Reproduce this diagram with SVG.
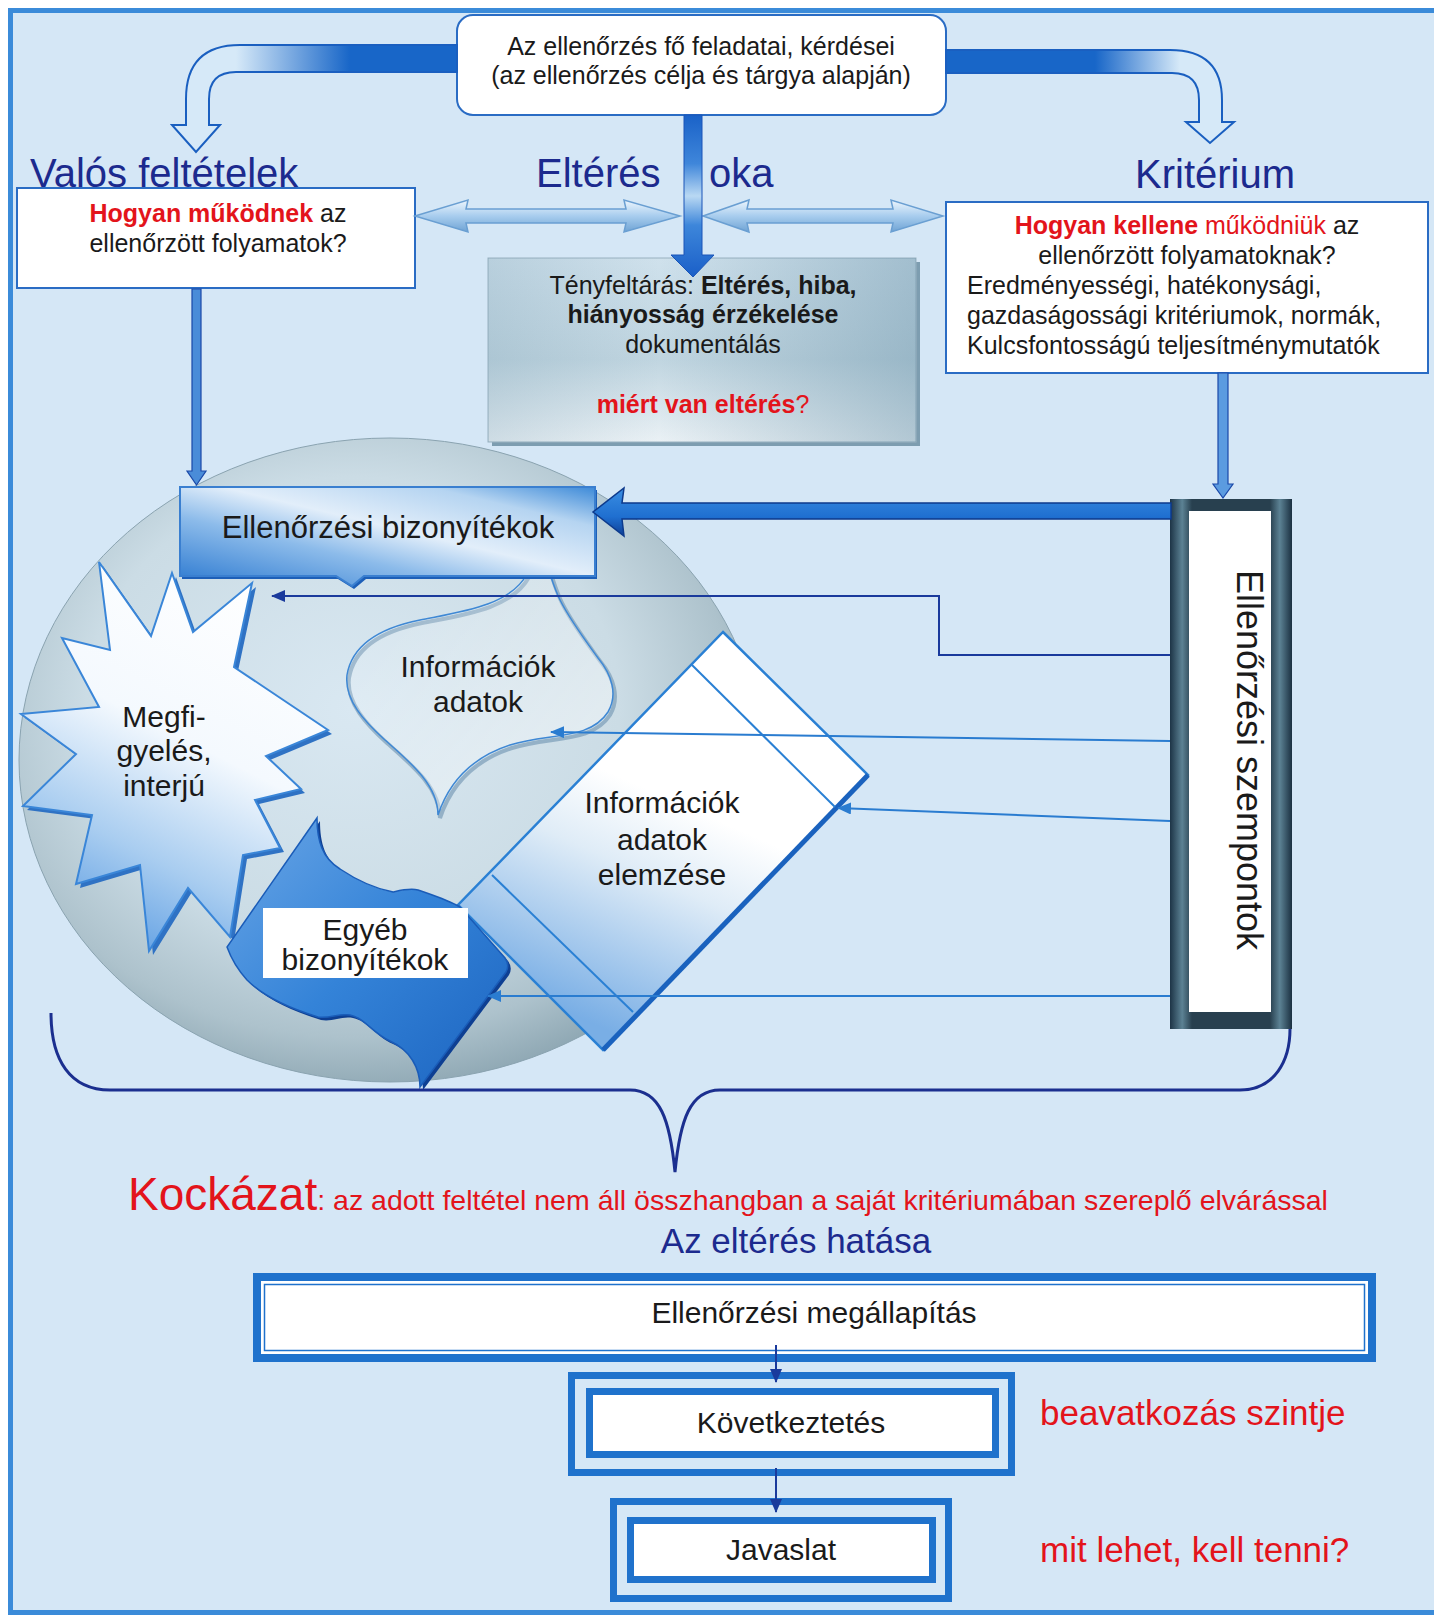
<svg xmlns="http://www.w3.org/2000/svg" width="1434" height="1617" viewBox="0 0 1434 1617">
<defs>
<style>
text { font-family: "Liberation Sans", Arial, sans-serif; fill: #1a1a1a; }
.t25 { font-size: 25px; }
.t30 { font-size: 30px; }
.hdr { font-size: 40px; fill: #1c2a8e; }
.red { fill: #e3141b; }
.b { font-weight: bold; }
.wbox { fill: #ffffff; stroke: #2a6cc4; stroke-width: 2; }
.conn { fill: none; stroke: #2a7cd0; stroke-width: 2; marker-end: url(#ahB); }
.connN { fill: none; stroke: #1a3a9c; stroke-width: 2; marker-end: url(#ahN); }
.frame { fill: none; stroke: #1f72cc; stroke-width: 7; }
.dbl { fill: url(#gDbl); stroke: #6a9fd2; stroke-width: 1.5; }
</style>
<marker id="ahB" viewBox="0 0 14 12" refX="13" refY="6" markerWidth="14" markerHeight="12" markerUnits="userSpaceOnUse" orient="auto"><path d="M0,0 L14,6 L0,12 Z" fill="#2a7cd0"/></marker>
<marker id="ahN" viewBox="0 0 14 12" refX="13" refY="6" markerWidth="14" markerHeight="12" markerUnits="userSpaceOnUse" orient="auto"><path d="M0,0 L14,6 L0,12 Z" fill="#1a3a9c"/></marker>
<linearGradient id="gBandL" gradientUnits="userSpaceOnUse" x1="236" y1="0" x2="350" y2="0"><stop offset="0" stop-color="#d6e9f8"/><stop offset="1" stop-color="#1866c8"/></linearGradient>
<linearGradient id="gBandR" gradientUnits="userSpaceOnUse" x1="1095" y1="0" x2="1180" y2="0"><stop offset="0" stop-color="#1866c8"/><stop offset="1" stop-color="#d6e9f8"/></linearGradient>
<linearGradient id="gVert" gradientUnits="userSpaceOnUse" x1="0" y1="115" x2="0" y2="277"><stop offset="0" stop-color="#1a62c8"/><stop offset="0.3" stop-color="#3f86da"/><stop offset="0.5" stop-color="#b9d8f3"/><stop offset="0.68" stop-color="#3d86da"/><stop offset="1" stop-color="#1a5fc8"/></linearGradient>
<linearGradient id="gDbl" x1="0" y1="0" x2="0" y2="1"><stop offset="0" stop-color="#eef6fd"/><stop offset="0.5" stop-color="#a8cdee"/><stop offset="1" stop-color="#6fa3d4"/></linearGradient>
<linearGradient id="gTeny" x1="0" y1="0" x2="0" y2="1"><stop offset="0" stop-color="#cfe1ec"/><stop offset="0.55" stop-color="#c0d5e0"/><stop offset="1" stop-color="#eaf1f5"/></linearGradient>
<linearGradient id="gTenyR" x1="0" y1="0" x2="1" y2="0"><stop offset="0" stop-color="#5f8aa2" stop-opacity="0.2"/><stop offset="0.4" stop-color="#5f8aa2" stop-opacity="0"/><stop offset="1" stop-color="#5f8aa2" stop-opacity="0.4"/></linearGradient>
<radialGradient id="gSphere" cx="0.45" cy="0.42" r="0.6"><stop offset="0" stop-color="#d9e8f2"/><stop offset="0.6" stop-color="#cbdce5"/><stop offset="0.85" stop-color="#adc2cc"/><stop offset="1" stop-color="#8ea7b3"/></radialGradient>
<linearGradient id="gBiz" x1="0" y1="1" x2="1" y2="0"><stop offset="0" stop-color="#2a78d0"/><stop offset="0.35" stop-color="#8cbbea"/><stop offset="0.55" stop-color="#e2eefa"/><stop offset="0.8" stop-color="#b5d4f1"/><stop offset="1" stop-color="#3d8ad8"/></linearGradient>
<linearGradient id="gStar" x1="0.7" y1="0" x2="0.3" y2="1"><stop offset="0" stop-color="#ffffff"/><stop offset="0.45" stop-color="#f4f9fe"/><stop offset="0.75" stop-color="#a9cdf0"/><stop offset="1" stop-color="#5d9de2"/></linearGradient>
<linearGradient id="gEgy" x1="0" y1="0" x2="1" y2="1"><stop offset="0" stop-color="#6aa6e6"/><stop offset="0.5" stop-color="#3483d8"/><stop offset="1" stop-color="#1c64c0"/></linearGradient>
<linearGradient id="gDia" gradientUnits="userSpaceOnUse" x1="700" y1="640" x2="540" y2="1000"><stop offset="0" stop-color="#ffffff"/><stop offset="0.4" stop-color="#ffffff"/><stop offset="0.6" stop-color="#dfecf7"/><stop offset="1" stop-color="#79aee5"/></linearGradient>
<linearGradient id="gBub" x1="0" y1="0" x2="1" y2="1"><stop offset="0" stop-color="#ffffff" stop-opacity="0"/><stop offset="1" stop-color="#ffffff" stop-opacity="0.55"/></linearGradient>
<linearGradient id="gSzemp" x1="0" y1="0" x2="1" y2="0"><stop offset="0" stop-color="#1d3446"/><stop offset="0.1" stop-color="#5c8294"/><stop offset="0.18" stop-color="#28404f"/><stop offset="0.82" stop-color="#28404f"/><stop offset="0.9" stop-color="#5c8294"/><stop offset="1" stop-color="#1b3041"/></linearGradient>
<linearGradient id="gThick" x1="0" y1="0" x2="0" y2="1"><stop offset="0" stop-color="#3a8ee2"/><stop offset="0.6" stop-color="#1f6fd0"/><stop offset="1" stop-color="#0e3f96"/></linearGradient>
</defs>

<rect x="0" y="0" width="1434" height="1617" fill="#ffffff"/>
<rect x="10.5" y="10.5" width="1440" height="1602" fill="#d5e7f6" stroke="#3b8bd9" stroke-width="5"/>

<g id="sphere">
<ellipse cx="390" cy="760" rx="371" ry="322" fill="url(#gSphere)" stroke="#8aa3b0" stroke-width="1"/>
</g>

<g id="node-top">
<rect x="457" y="15" width="489" height="100" rx="16" class="wbox"/>
<text x="701" y="55" text-anchor="middle" class="t25">Az ellenőrzés fő feladatai, kérdései</text>
<text x="701" y="84" text-anchor="middle" class="t25">(az ellenőrzés célja és tárgya alapján)</text>
</g>

<g id="node-valos">
<text x="30" y="187" class="hdr">Valós feltételek</text>
<rect x="17" y="188" width="398" height="100" class="wbox"/>
<text x="218" y="222" text-anchor="middle" class="t25"><tspan class="red b">Hogyan működnek</tspan> az</text>
<text x="218" y="252" text-anchor="middle" class="t25">ellenőrzött folyamatok?</text>
</g>

<g id="node-elteres-oka">
<text x="536" y="187" class="hdr">Eltérés</text>
<text x="709" y="187" class="hdr">oka</text>
</g>

<g id="node-kriterium">
<text x="1135" y="188" class="hdr">Kritérium</text>
<rect x="946" y="202" width="482" height="171" class="wbox"/>
<text x="1187" y="234" text-anchor="middle" class="t25"><tspan class="red b">Hogyan kellene</tspan><tspan class="red"> működniük</tspan> az</text>
<text x="1187" y="264" text-anchor="middle" class="t25">ellenőrzött folyamatoknak?</text>
<text x="967" y="294" class="t25">Eredményességi, hatékonysági,</text>
<text x="967" y="324" class="t25">gazdaságossági kritériumok, normák,</text>
<text x="967" y="354" class="t25">Kulcsfontosságú teljesítménymutatók</text>
</g>

<g id="node-tenyfeltaras">
<rect x="492" y="262" width="428" height="184" fill="#7d9db0"/>
<rect x="488" y="258" width="428" height="184" fill="url(#gTeny)" stroke="#9ab2c0" stroke-width="1"/>
<rect x="488" y="258" width="428" height="184" fill="url(#gTenyR)"/>
<text x="703" y="294" text-anchor="middle" class="t25">Tényfeltárás: <tspan class="b">Eltérés, hiba,</tspan></text>
<text x="703" y="323" text-anchor="middle" class="t25 b">hiányosság érzékelése</text>
<text x="703" y="353" text-anchor="middle" class="t25">dokumentálás</text>
<text x="703" y="413" text-anchor="middle" class="t25"><tspan class="red b">miért van eltérés</tspan><tspan class="red">?</tspan></text>
</g>

<g id="node-informaciok">
<path d="M527,574 C510,606 460,612 420,620 C380,628 352,645 347,675 C344,700 365,722 385,740 C410,762 438,785 438,815 C448,785 470,758 510,745 C550,733 590,740 608,712 C618,695 612,675 598,658 C585,640 570,620 560,600 C555,590 552,580 550,574 Z" fill="none" stroke="#7b9cb8" stroke-width="4" transform="translate(2,3)" opacity="0.7"/>
<path d="M527,574 C510,606 460,612 420,620 C380,628 352,645 347,675 C344,700 365,722 385,740 C410,762 438,785 438,815 C448,785 470,758 510,745 C550,733 590,740 608,712 C618,695 612,675 598,658 C585,640 570,620 560,600 C555,590 552,580 550,574 Z" fill="url(#gBub)" stroke="#3f88d4" stroke-width="1.5"/>
<text x="478" y="677" text-anchor="middle" class="t30">Információk</text>
<text x="478" y="712" text-anchor="middle" class="t30">adatok</text>
</g>

<g id="node-elemzes">
<polygon points="723,632 868,775 603,1050 458,905" fill="url(#gDia)" stroke="#2a80d4" stroke-width="2.5"/>
<line x1="868" y1="775" x2="603" y2="1050" stroke="#1a62be" stroke-width="5"/>
<line x1="692" y1="665" x2="835" y2="807" stroke="#2a80d4" stroke-width="2"/>
<line x1="492" y1="875" x2="633" y2="1012" stroke="#2a80d4" stroke-width="2"/>
<text x="662" y="813" text-anchor="middle" class="t30">Információk</text>
<text x="662" y="850" text-anchor="middle" class="t30">adatok</text>
<text x="662" y="885" text-anchor="middle" class="t30">elemzése</text>
</g>

<g id="node-megfigyeles">
<polygon points="99,562 151,636 172,573 193,632 252,583 234,667 328,730 266,756 301,789 255,800 280,848 243,855 230,937 188,888 149,951 140,865 76,884 92,815 23,806 76,754 21,714 99,707 62,638 110,650" fill="#2f72c4" transform="translate(4,4)"/>
<polygon points="99,562 151,636 172,573 193,632 252,583 234,667 328,730 266,756 301,789 255,800 280,848 243,855 230,937 188,888 149,951 140,865 76,884 92,815 23,806 76,754 21,714 99,707 62,638 110,650" fill="url(#gStar)" stroke="#3a86d8" stroke-width="2"/>
<text x="164" y="727" text-anchor="middle" class="t30">Megfi-</text>
<text x="164" y="761" text-anchor="middle" class="t30">gyelés,</text>
<text x="164" y="796" text-anchor="middle" class="t30">interjú</text>
</g>

<g id="node-egyeb">
<path d="M317,818 C317,840 322,858 340,869 C355,879 372,888 393,892 C402,890 410,888 418,890 C432,895 448,900 460,907 L505,958 Q510,965 506,972 L420,1087 C420,1068 410,1050 390,1041 C372,1033 365,1018 350,1015 C338,1013 330,1019 318,1017 C295,1010 265,998 247,980 C238,970 231,958 227,947 Z" fill="#0e3f92" transform="translate(3,3)"/>
<path d="M317,818 C317,840 322,858 340,869 C355,879 372,888 393,892 C402,890 410,888 418,890 C432,895 448,900 460,907 L505,958 Q510,965 506,972 L420,1087 C420,1068 410,1050 390,1041 C372,1033 365,1018 350,1015 C338,1013 330,1019 318,1017 C295,1010 265,998 247,980 C238,970 231,958 227,947 Z" fill="url(#gEgy)" stroke="#1a5cb8" stroke-width="1.5"/>
<rect x="263" y="908" width="205" height="70" fill="#ffffff"/>
<text x="365" y="940" text-anchor="middle" class="t30">Egyéb</text>
<text x="365" y="970" text-anchor="middle" class="t30">bizonyítékok</text>
</g>

<g id="node-bizonyitekok">
<path d="M180,487 H595 V576 H364 L352,586 L336,576 H180 Z" fill="#1d5fb8" transform="translate(2,3)"/>
<path d="M180,487 H595 V576 H364 L352,586 L336,576 H180 Z" fill="url(#gBiz)" stroke="#3a7fd0" stroke-width="2"/>
<text x="388" y="538" text-anchor="middle" font-size="31">Ellenőrzési bizonyítékok</text>
</g>

<g id="node-szempontok">
<rect x="1170" y="499" width="122" height="530" fill="url(#gSzemp)"/>
<rect x="1189" y="511" width="82" height="501" fill="#ffffff"/>
<text transform="translate(1237,760) rotate(90)" text-anchor="middle" font-size="36">Ellenőrzési szempontok</text>
</g>

<g id="node-kockazat">
<text x="128" y="1210"><tspan class="red" font-size="46">Kockázat</tspan><tspan class="red" font-size="28.5">: az adott feltétel nem áll összhangban a saját kritériumában szereplő elvárással</tspan></text>
</g>

<g id="node-hatas">
<text x="796" y="1253" text-anchor="middle" font-size="35" style="fill:#1c2a8e">Az eltérés hatása</text>
</g>

<g id="node-megallapitas">
<rect x="253" y="1273" width="1123" height="89" fill="#1f72cc"/>
<rect x="261" y="1281" width="1107" height="73" fill="#ffffff"/>
<rect x="264.5" y="1284.5" width="1100" height="66" fill="none" stroke="#1f72cc" stroke-width="1.5"/>
<text x="814" y="1323" text-anchor="middle" class="t30">Ellenőrzési megállapítás</text>
</g>

<g id="node-kovetkeztetes">
<rect x="571.5" y="1375.5" width="440" height="97" class="frame"/>
<rect x="589.5" y="1391.5" width="406" height="63" class="frame" style="fill:#ffffff"/>
<text x="791" y="1433" text-anchor="middle" class="t30">Következtetés</text>
</g>

<g id="node-javaslat">
<rect x="613.5" y="1501.5" width="335" height="97" class="frame"/>
<rect x="630.5" y="1520.5" width="302" height="59" class="frame" style="fill:#ffffff"/>
<text x="781" y="1560" text-anchor="middle" class="t30">Javaslat</text>
</g>

<g id="node-beavatkozas">
<text x="1040" y="1425" font-size="35" class="red">beavatkozás szintje</text>
</g>
<g id="node-mit">
<text x="1040" y="1562" font-size="35" class="red">mit lehet, kell tenni?</text>
</g>

<g id="connectors">
<path d="M457,45 L240,45 Q186,45 186,99 L186,125 L172,125 L196,152 L220,125 L209,125 L209,99 Q209,72 236,72 L457,72 Z" fill="url(#gBandL)" stroke="#1a5fc0" stroke-width="2"/>
<path d="M946,50 L1170,50 Q1222,50 1222,100 L1222,122 L1234,122 L1210,143 L1186,122 L1199,122 L1199,100 Q1199,73 1172,73 L946,73 Z" fill="url(#gBandR)" stroke="#1a5fc0" stroke-width="2"/>
<path d="M415,216 L468,200 L466,209 L626,209 L624,200 L680,216 L624,232 L626,223 L466,223 L468,232 Z" class="dbl"/>
<path d="M703,216 L749,200 L747,209 L893,209 L891,200 L943,216 L891,232 L893,223 L747,223 L749,232 Z" class="dbl"/>
<path d="M684,115 H702 V255 H714 L693,277 L671,255 H684 Z" fill="url(#gVert)" stroke="#1a55b8" stroke-width="1"/>
<path d="M192,289 H201 V471 H206 L196.5,485 L187,471 H192 Z" fill="#4a8cd8" stroke="#1a48a8" stroke-width="1.2"/>
<path d="M1218,373 H1228 V484 H1233 L1223,498 L1213,484 H1218 Z" fill="#5b9be0" stroke="#1a48a8" stroke-width="1.2"/>
<path d="M1171,503 H622 L624,488 L593,512 L624,536 L622,519 H1171 Z" fill="url(#gThick)" stroke="#0d3a8c" stroke-width="1.5"/>
<path d="M1170,655 H939 V596 H272" class="connN"/>
<path d="M1170,741 L551,732" class="conn"/>
<path d="M1170,821 L838,808" class="conn"/>
<path d="M1170,996 H488" class="conn"/>
<path d="M51,1013 C51,1060 70,1090 110,1090 L630,1090 C660,1090 670,1120 675,1172 C680,1120 690,1090 720,1090 L1240,1090 C1275,1090 1290,1060 1290,1029" fill="none" stroke="#1b2f8f" stroke-width="3"/>
<path d="M776,1345 V1382" class="connN"/>
<path d="M776,1468 V1512" class="connN"/>
</g>
</svg>
